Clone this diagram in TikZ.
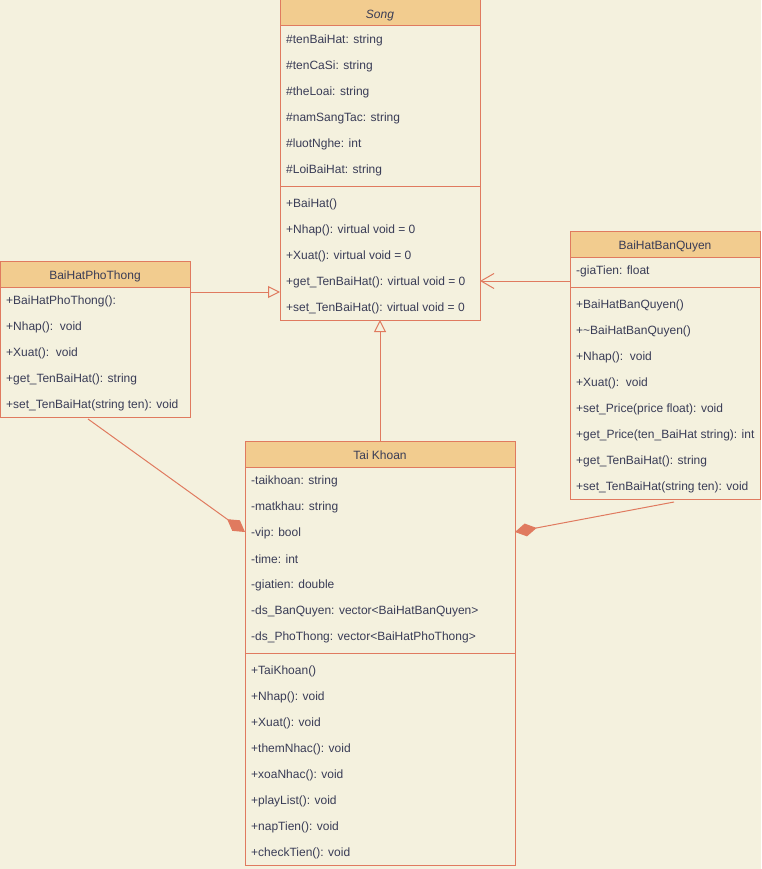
\documentclass[tikz,border=0pt]{standalone}
\usepackage{fontspec}
\setmainfont{Liberation Sans}
\usetikzlibrary{arrows.meta,calc}
\definecolor{bg}{HTML}{F4F1DE}
\definecolor{hdrfill}{HTML}{F2CC8F}
\definecolor{strk}{HTML}{E07A5F}
\definecolor{txt}{HTML}{393C56}
\tikzset{
  boxframe/.style={draw=strk, line width=1pt, inner sep=0pt, outer sep=0pt, anchor=north west},
  hdr/.style={boxframe, fill=hdrfill, text=txt, font=\fontsize{12}{14}\selectfont, minimum height=26pt, text height=11pt, text depth=0pt},
  rowtext/.style={anchor=west, inner sep=0pt, yshift=-1.5pt, text=txt, font=\fontsize{12}{14}\selectfont},
  ln/.style={draw=strk, line width=1pt},
  inherit/.style={ln, -{Triangle[open, length=12pt, width=12pt, fill=bg]}},
  assoc/.style={ln, -{Straight Barb[length=13pt, width=15pt]}},
  compose/.style={ln, -{Diamond[length=22pt, width=13pt, fill=strk]}}
}
\newcommand\cellrow[4]{\node[rowtext] (#1) at (#2,#3) {#4};}
\begin{document}
\begin{tikzpicture}[x=1pt,y=-1pt]
\fill[bg] (0,0) rectangle (761,869);
\useasboundingbox (0,0) rectangle (761,869);

% ---------- Song ----------
\node[boxframe, fill=bg, minimum width=200pt, minimum height=320pt] (song) at (280,0) {};
\node[hdr, minimum width=200pt] (songH) at (280,0) {\itshape Song};
\draw[ln] (280,186) -- (480,186);
\cellrow{s1}{286}{39}{\#tenBaiHat: string}
\cellrow{s2}{286}{65}{\#tenCaSi: string}
\cellrow{s3}{286}{91}{\#theLoai: string}
\cellrow{s4}{286}{117}{\#namSangTac: string}
\cellrow{s5}{286}{143}{\#luotNghe: int}
\cellrow{s6}{286}{169}{\#LoiBaiHat: string}
\cellrow{s7}{286}{203}{+BaiHat()}
\cellrow{s8}{286}{229}{+Nhap(): virtual void = 0}
\cellrow{s9}{286}{255}{+Xuat(): virtual void = 0}
\cellrow{s10}{286}{281}{+get\_TenBaiHat(): virtual void = 0}
\cellrow{s11}{286}{307}{+set\_TenBaiHat(): virtual void = 0}

% ---------- BaiHatPhoThong ----------
\node[boxframe, fill=bg, minimum width=190pt, minimum height=156pt] (pho) at (0,261) {};
\node[hdr, minimum width=190pt] (phoH) at (0,261) {BaiHatPhoThong};
\cellrow{p1}{6}{300}{+BaiHatPhoThong():}
\cellrow{p2}{6}{326}{+Nhap():\ \ void}
\cellrow{p3}{6}{352}{+Xuat():\ \ void}
\cellrow{p4}{6}{378}{+get\_TenBaiHat(): string}
\cellrow{p5}{6}{404}{+set\_TenBaiHat(string ten): void}

% ---------- BaiHatBanQuyen ----------
\node[boxframe, fill=bg, minimum width=190pt, minimum height=268pt] (bq) at (570,231) {};
\node[hdr, minimum width=190pt] (bqH) at (570,231) {BaiHatBanQuyen};
\draw[ln] (570,287) -- (760,287);
\cellrow{b1}{576}{270}{-giaTien: float}
\cellrow{b2}{576}{304}{+BaiHatBanQuyen()}
\cellrow{b3}{576}{330}{+\textasciitilde BaiHatBanQuyen()}
\cellrow{b4}{576}{356}{+Nhap():\ \ void}
\cellrow{b5}{576}{382}{+Xuat():\ \ void}
\cellrow{b6}{576}{408}{+set\_Price(price float): void}
\cellrow{b7}{576}{434}{+get\_Price(ten\_BaiHat string): int}
\cellrow{b8}{576}{460}{+get\_TenBaiHat(): string}
\cellrow{b9}{576}{486}{+set\_TenBaiHat(string ten): void}

% ---------- Tai Khoan ----------
\node[boxframe, fill=bg, minimum width=270pt, minimum height=424pt] (tk) at (245,441) {};
\node[hdr, minimum width=270pt] (tkH) at (245,441) {Tai Khoan};
\draw[ln] (245,653) -- (515,653);
\cellrow{t1}{251}{480}{-taikhoan: string}
\cellrow{t2}{251}{506}{-matkhau: string}
\cellrow{t3}{251}{532}{-vip: bool}
\cellrow{t4}{251}{558}{-time: int}
\cellrow{t5}{251}{584}{-giatien: double}
\cellrow{t6}{251}{610}{-ds\_BanQuyen: vector<BaiHatBanQuyen>}
\cellrow{t7}{251}{636}{-ds\_PhoThong: vector<BaiHatPhoThong>}
\cellrow{t8}{251}{670}{+TaiKhoan()}
\cellrow{t9}{251}{696}{+Nhap(): void}
\cellrow{t10}{251}{722}{+Xuat(): void}
\cellrow{t11}{251}{748}{+themNhac(): void}
\cellrow{t12}{251}{774}{+xoaNhac(): void}
\cellrow{t13}{251}{800}{+playList(): void}
\cellrow{t14}{251}{826}{+napTien(): void}
\cellrow{t15}{251}{852}{+checkTien(): void}

% ---------- connectors ----------
\coordinate (phoOut) at ([yshift=-31pt]pho.north east);
\draw[inherit] (phoOut) -- (phoOut -| song.west);
\coordinate (bqOut) at ([yshift=-50pt]bq.north west);
\draw[assoc] (bqOut) -- (bqOut -| song.east);
\draw[inherit] (tk.north) -- (song.south);
\draw[compose] ([xshift=-7pt,yshift=-2pt]pho.south) -- ([yshift=-91pt]tk.north west);
\draw[compose] ([xshift=9pt,yshift=-3pt]bq.south) -- ([yshift=-91pt]tk.north east);
\end{tikzpicture}
\end{document}
